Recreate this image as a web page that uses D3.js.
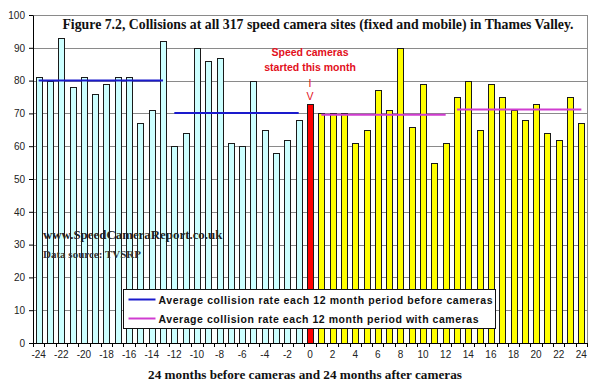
<!DOCTYPE html>
<html>
<head>
<meta charset="utf-8">
<script src="https://cdn.jsdelivr.net/npm/d3@7"></script>
<style>
  body { margin: 0; background: #fff; }
  svg { display: block; }
</style>
</head>
<body>
<div id="chart"></div>
<script>
// months relative to camera start
const months = [-24, -23, -22, -21, -20, -19, -18, -17, -16, -15, -14, -13,
  -12, -11, -10, -9, -8, -7, -6, -5, -4, -3, -2, -1, 0,
  1, 2, 3, 4, 5, 6, 7, 8, 9, 10, 11, 12,
  13, 14, 15, 16, 17, 18, 19, 20, 21, 22, 23, 24];

// collisions per month
const collisions = [81, 80, 93, 78, 81, 76, 79, 81, 81, 67, 71, 92,
  60, 64, 90, 86, 87, 61, 60, 80, 65, 58, 62, 68, 73,
  70, 70, 70, 61, 65, 77, 71, 90, 66, 79, 55, 61,
  75, 80, 65, 79, 75, 71, 68, 73, 64, 62, 75, 67];

// 12 month averages
const avgFrom = [-24, -12, 1, 13];
const avgTo = [-13, -1, 12, 24];
const avgValue = [80, 70.1, 69.6, 71.2];
const avgType = ['before', 'before', 'with', 'with'];

const yTicks = [0, 10, 20, 30, 40, 50, 60, 70, 80, 90, 100];
const xLabels = [-24, -22, -20, -18, -16, -14, -12, -10, -8, -6, -4, -2, 0,
  2, 4, 6, 8, 10, 12, 14, 16, 18, 20, 22, 24];

const legendLabels = [
  'Average collision rate each 12 month period before cameras',
  'Average collision rate each 12 month period with cameras'
];

const width = 600, height = 387;
const margin = { top: 15, right: 13, bottom: 44, left: 33 };
const plotW = width - margin.left - margin.right;
const plotH = height - margin.top - margin.bottom;

const colors = { before: '#ccffff', start: '#ff0000', after: '#ffff00',
  lineBefore: '#1a1acc', lineWith: '#d03cd0', grid: '#8a8a8a' };

const serif = "'Liberation Serif', 'Times New Roman', serif";
const sans = "'Liberation Sans', Arial, sans-serif";

const svg = d3.select('#chart').append('svg')
  .attr('width', width)
  .attr('height', height)
  .style('font-family', sans);

const g = svg.append('g')
  .attr('transform', `translate(${margin.left}, ${margin.top})`);

const x = d3.scaleBand()
  .domain(months)
  .range([0, plotW])
  .paddingInner(0.47)
  .paddingOuter(0.235);

const y = d3.scaleLinear()
  .domain([0, 100])
  .range([plotH, 0]);

// gridlines
g.selectAll('.grid')
  .data(yTicks.filter(d => d > 0 && d < 100))
  .join('line')
  .attr('class', 'grid')
  .attr('x1', 0)
  .attr('x2', plotW)
  .attr('y1', d => Math.round(y(d)) + 0.5)
  .attr('y2', d => Math.round(y(d)) + 0.5)
  .attr('stroke', colors.grid)
  .attr('stroke-width', 1);

// plot border
g.append('rect')
  .attr('x', 0.5)
  .attr('y', 0.5)
  .attr('width', plotW)
  .attr('height', plotH)
  .attr('fill', 'none')
  .attr('stroke', colors.grid)
  .attr('stroke-width', 1);

// bars
g.selectAll('.bar')
  .data(months.map((m, i) => ({ month: m, value: collisions[i] })))
  .join('rect')
  .attr('class', 'bar')
  .attr('x', d => Math.round(x(d.month)) + 0.5)
  .attr('y', d => Math.round(y(d.value)) + 0.5)
  .attr('width', Math.round(x.bandwidth()))
  .attr('height', d => Math.round(y(0)) - Math.round(y(d.value)))
  .attr('fill', d => d.month < 0 ? colors.before : (d.month === 0 ? colors.start : colors.after))
  .attr('stroke', '#1a1a1a')
  .attr('stroke-width', 1);

// average lines
g.selectAll('.avg')
  .data(avgValue.map((v, i) => ({ from: avgFrom[i], to: avgTo[i], value: v, type: avgType[i] })))
  .join('line')
  .attr('class', 'avg')
  .attr('x1', d => x(d.from) + x.bandwidth() / 2)
  .attr('x2', d => x(d.to) + x.bandwidth() / 2)
  .attr('y1', d => y(d.value))
  .attr('y2', d => y(d.value))
  .attr('stroke', d => d.type === 'before' ? colors.lineBefore : colors.lineWith)
  .attr('stroke-width', 2);

// axes
const yAxis = g.append('g')
  .call(d3.axisLeft(y).tickValues(yTicks).tickSize(4).tickSizeOuter(0).tickPadding(4));
yAxis.select('.domain').attr('stroke', '#000');
yAxis.selectAll('.tick line').attr('stroke', '#000');
yAxis.selectAll('.tick text')
  .style('font-size', '10px')
  .style('fill', '#222')
  .style('font-family', sans);

const xAxis = g.append('g')
  .attr('transform', `translate(0, ${plotH})`)
  .call(d3.axisBottom(x).tickValues(xLabels).tickSize(0).tickPadding(8));
xAxis.select('.domain').attr('stroke', '#000');
xAxis.selectAll('.tick text')
  .style('font-size', '10px')
  .style('fill', '#222')
  .style('font-family', sans);

// tick marks between categories
g.selectAll('.xtick')
  .data(months.concat([25]))
  .join('line')
  .attr('class', 'xtick')
  .attr('x1', d => Math.round(d === 25 ? plotW : x(d) - x.step() * x.paddingInner() / 2) + 0.5)
  .attr('x2', d => Math.round(d === 25 ? plotW : x(d) - x.step() * x.paddingInner() / 2) + 0.5)
  .attr('y1', plotH)
  .attr('y2', plotH + 4)
  .attr('stroke', '#000');

// title
svg.append('text')
  .attr('x', 318)
  .attr('y', 29)
  .attr('text-anchor', 'middle')
  .style('font-family', serif)
  .style('font-weight', 'bold')
  .style('font-size', '13.8px')
  .style('fill', '#111')
  .text('Figure 7.2, Collisions at all 317 speed camera sites (fixed and mobile) in Thames Valley.');

// annotation for month 0
const ann = svg.append('g')
  .attr('transform', `translate(${margin.left + x(0) + x.bandwidth() / 2}, 0)`)
  .style('fill', '#e2101c')
  .style('font-size', '10.5px')
  .style('font-weight', 'bold')
  .attr('text-anchor', 'middle');
ann.append('text').attr('y', 56).text('Speed cameras');
ann.append('text').attr('y', 71).text('started this month');
ann.append('text').attr('y', 87).style('font-weight', 'normal').text('I');
ann.append('text').attr('y', 100).style('font-weight', 'normal').text('V');

// watermark
svg.append('text')
  .attr('x', 43)
  .attr('y', 239)
  .style('font-family', serif)
  .style('font-weight', 'bold')
  .style('font-size', '12.9px')
  .style('fill', '#222')
  .text('www.SpeedCameraReport.co.uk');
svg.append('text')
  .attr('x', 43)
  .attr('y', 258)
  .style('font-family', serif)
  .style('font-weight', 'bold')
  .style('font-size', '11px')
  .style('fill', '#333')
  .text('Data source: TVSRP');

// legend
const legend = svg.append('g')
  .attr('transform', 'translate(123.5, 289.5)');
legend.append('rect')
  .attr('width', 372)
  .attr('height', 39)
  .attr('fill', '#fff')
  .attr('stroke', '#111');
const items = legend.selectAll('.item')
  .data(legendLabels)
  .join('g')
  .attr('class', 'item')
  .attr('transform', (d, i) => `translate(0, ${10 + i * 19})`);
items.append('line')
  .attr('x1', 5)
  .attr('x2', 32)
  .attr('stroke', (d, i) => i === 0 ? colors.lineBefore : colors.lineWith)
  .attr('stroke-width', 2);
items.append('text')
  .attr('x', 35)
  .attr('y', 4)
  .attr('textLength', (d, i) => i === 0 ? 334 : 320)
  .attr('lengthAdjust', 'spacing')
  .style('font-size', '10.5px')
  .style('font-weight', 'bold')
  .style('fill', '#111')
  .text(d => d);

// x axis title
svg.append('text')
  .attr('x', 305)
  .attr('y', 379)
  .attr('text-anchor', 'middle')
  .style('font-family', serif)
  .style('font-weight', 'bold')
  .style('font-size', '13.2px')
  .style('fill', '#111')
  .text('24 months before cameras and 24 months after cameras');
</script>
</body>
</html>
